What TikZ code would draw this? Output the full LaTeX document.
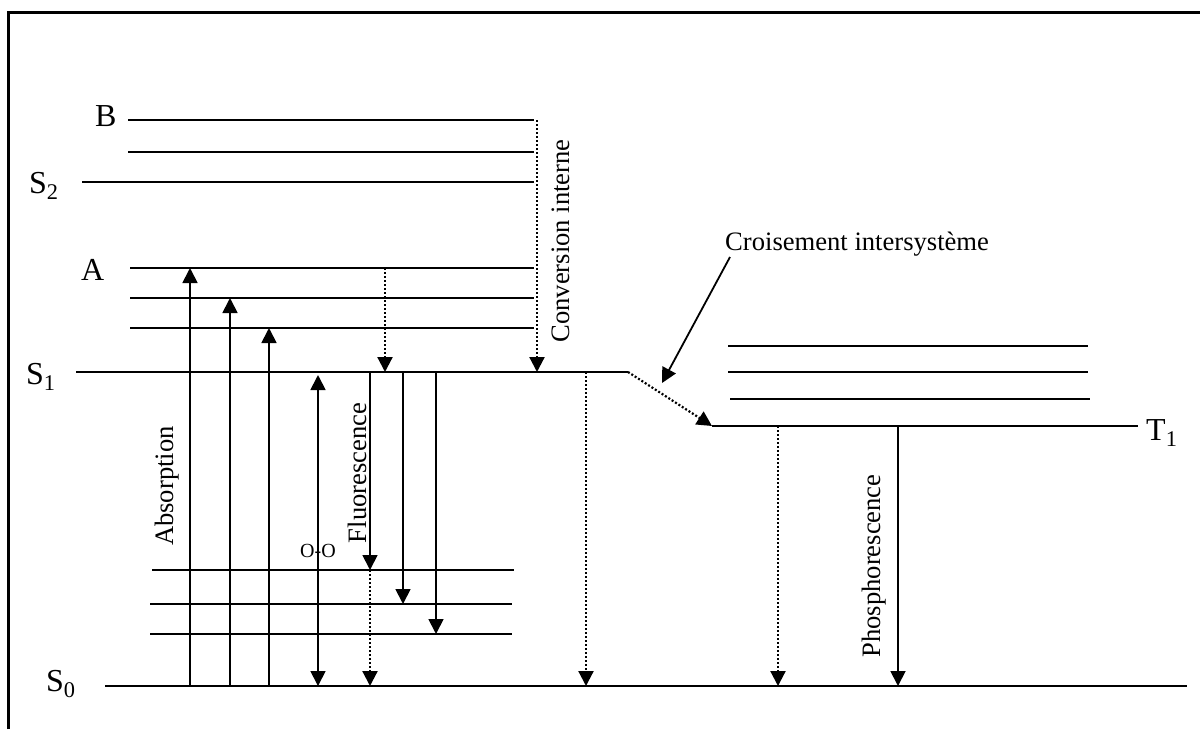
\documentclass[tikz,border=0pt]{standalone}
\usepackage{fontspec}
\setmainfont{Liberation Serif}
\usetikzlibrary{arrows.meta}
\begin{document}
\begin{tikzpicture}[x=1pt,y=-1pt,
  level/.style={line width=2pt},
  tip/.tip={Triangle[width=15pt,length=15pt]},
  arr/.style={line width=1.8pt,-tip},
  dotarr/.style={line width=2.2pt,dash pattern=on 2pt off 2pt,-tip},
  lvl/.style={inner sep=0pt,font=\fontsize{32}{36}\selectfont},
  lab/.style={inner sep=0pt,font=\fontsize{26.6}{30}\selectfont},
  rlab/.style={inner sep=0pt,rotate=90,font=\fontsize{26.6}{30}\selectfont},
  small/.style={inner sep=0pt,font=\fontsize{20}{24}\selectfont}]
\useasboundingbox (0,0) rectangle (1200,729);
\fill[white] (0,0) rectangle (1200,729);
% frame
\draw[line width=2.5pt] (8.5,729) -- (8.5,12.5) -- (1200,12.5);
% singlet S2 / B
\draw[level] (128,120) coordinate (Bl) -- (534,120) coordinate (Br);
\draw[level] (128,152) -- (534,152);
\draw[level] (82,182) -- (534,182);
% S1 manifold
\draw[level] (130,268) -- (534,268);
\draw[level] (130,298) -- (534,298);
\draw[level] (130,328) -- (534,328);
\draw[level] (76,372) -- (628,372) coordinate (S1r);
% S0 manifold
\draw[level] (152,570) -- (514,570);
\draw[level] (150,604) -- (512,604);
\draw[level] (150,634) -- (512,634);
\draw[level] (105,686) -- (1187,686);
% T1 manifold
\draw[level] (728,346) -- (1088,346);
\draw[level] (728,372) -- (1088,372);
\draw[level] (730,399) -- (1090,399);
\draw[level] (712,426) coordinate (T1l) -- (1138,426);
% level labels
\node[lvl,anchor=base west] (lB) at (95,126) {B};
\node[lvl,anchor=base west] (lS2) at (29,193) {S\textsubscript{2}};
\node[lvl,anchor=base west] (lA) at (81,280) {A};
\node[lvl,anchor=base west] (lS1) at (26,384) {S\textsubscript{1}};
\node[lvl,anchor=base west] (lS0) at (46,691) {S\textsubscript{0}};
\node[lvl,anchor=base west] (lT1) at (1146,440) {T\textsubscript{1}};
% coordinates for transitions
\coordinate (a1b) at (190,686); \coordinate (a1t) at (190,268);
\coordinate (a2b) at (230,686); \coordinate (a2t) at (230,298);
\coordinate (a3b) at (269,686); \coordinate (a3t) at (269,328);
\coordinate (oot) at (318,375); \coordinate (oob) at (318,686);
\coordinate (f1t) at (370,372); \coordinate (f1b) at (370,570); \coordinate (f1g) at (370,686);
\coordinate (f2t) at (403,372); \coordinate (f2b) at (403,604);
\coordinate (f3t) at (436,372); \coordinate (f3b) at (436,634);
\coordinate (vrt) at (385,268); \coordinate (vrb) at (385,372);
\coordinate (cit) at (537,120); \coordinate (cib) at (537,372);
\coordinate (nrt) at (586,372); \coordinate (nrb) at (586,686);
\coordinate (trt) at (778,426); \coordinate (trb) at (778,686);
\coordinate (pht) at (898,426); \coordinate (phb) at (898,686);
\coordinate (crs) at (730,257); \coordinate (cre) at (662,383);
% absorption
\draw[arr] (a1b) -- (a1t);
\draw[arr] (a2b) -- (a2t);
\draw[arr] (a3b) -- (a3t);
\node[rlab] (labs) at (167,486) {Absorption};
% 0-0
\draw[arr,tip-tip] (oot) -- (oob);
\node[small] (loo) at (318,551) {O-O};
% vibrational relaxation
\draw[dotarr] (vrt) -- (vrb);
% internal conversion
\draw[dotarr] (cit) -- (cib);
\node[rlab] (lci) at (561,241) {Conversion interne};
% fluorescence
\draw[arr] (f1t) -- (f1b);
\draw[dotarr] (f1b) -- (f1g);
\draw[arr] (f2t) -- (f2b);
\draw[arr] (f3t) -- (f3b);
\node[rlab] (lfl) at (357,473) {Fluorescence};
% nonradiative S1 -> S0
\draw[dotarr] (nrt) -- (nrb);
% intersystem crossing
\draw[dotarr] (S1r) -- (T1l);
\node[lab,anchor=base west] (lcr) at (725,250) {Croisement intersystème};
\draw[arr] (crs) -- (cre);
% T1 -> S0
\draw[dotarr] (trt) -- (trb);
\draw[arr] (pht) -- (phb);
\node[rlab] (lph) at (874,566) {Phosphorescence};
\end{tikzpicture}
\end{document}
